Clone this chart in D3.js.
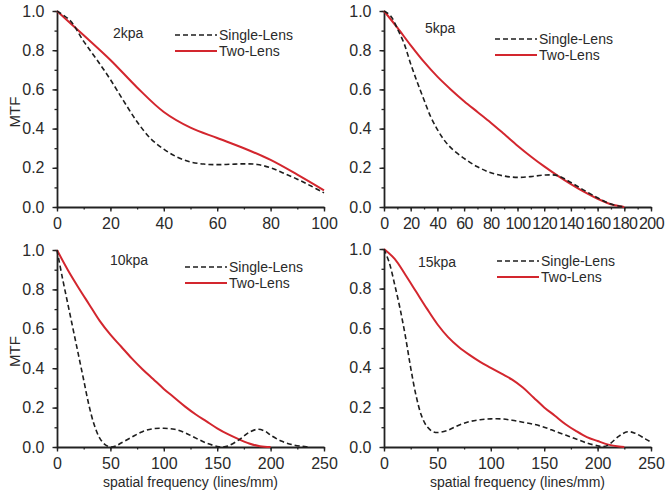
<!DOCTYPE html>
<html><head><meta charset="utf-8">
<script src="https://cdn.jsdelivr.net/npm/d3@7"></script>
<style>
body{margin:0;background:#fff;}
text{font-family:"Liberation Sans",Arial,Helvetica,sans-serif;fill:#2a2a2a;}
</style></head>
<body><svg id="c" width="665" height="493"></svg>
<script>
// ---------- data ----------
const titles = ["2kpa","5kpa","10kpa","15kpa"];
const seriesNames = ["Single-Lens","Two-Lens"];
const xMax = [100,200,250,250];
const xTickStep = [20,20,50,50];
const xMinorStep = [10,10,25,25];
const yTicks = [0,0.2,0.4,0.6,0.8,1.0];

const single2 = [[0,1],[5,0.95],[10,0.845],[15,0.75],[20,0.65],[25,0.54],[30,0.435],[35,0.35],[40,0.295],[45,0.255],[50,0.23],[55,0.219],[60,0.216],[65,0.218],[70,0.22],[75,0.217],[80,0.2],[85,0.172],[90,0.142],[95,0.108],[100,0.072]];
const two2 = [[0,1],[10,0.876],[20,0.75],[30,0.61],[40,0.485],[50,0.405],[60,0.352],[70,0.3],[80,0.24],[90,0.165],[100,0.085]];

const single5 = [[0,1],[5,0.975],[10,0.91],[15,0.835],[20,0.73],[25,0.635],[30,0.546],[35,0.46],[40,0.395],[45,0.342],[50,0.303],[60,0.248],[70,0.205],[80,0.175],[90,0.158],[100,0.151],[110,0.155],[120,0.163],[130,0.16],[140,0.125],[150,0.085],[160,0.047],[170,0.015],[180,0]];
const two5 = [[0,1],[10,0.915],[20,0.825],[30,0.74],[40,0.665],[50,0.6],[60,0.54],[70,0.485],[80,0.43],[90,0.372],[100,0.313],[110,0.258],[120,0.207],[130,0.16],[140,0.117],[150,0.077],[160,0.042],[170,0.014],[180,0]];

const single10 = [[0,1],[5,0.86],[10,0.73],[15,0.6],[20,0.47],[25,0.34],[30,0.21],[35,0.11],[40,0.045],[45,0.012],[50,0],[55,0.005],[60,0.02],[70,0.05],[80,0.078],[90,0.093],[100,0.095],[110,0.09],[120,0.072],[130,0.045],[140,0.02],[150,0.003],[155,0],[160,0.005],[170,0.035],[180,0.075],[188,0.09],[195,0.08],[200,0.06],[210,0.03],[220,0.012],[230,0.003],[235,0]];
const two10 = [[0,1],[10,0.9],[20,0.81],[30,0.725],[40,0.64],[50,0.57],[60,0.51],[70,0.45],[80,0.395],[90,0.345],[100,0.295],[110,0.25],[120,0.205],[130,0.165],[140,0.13],[150,0.095],[160,0.065],[170,0.04],[180,0.018],[190,0.004],[200,0]];

const single15 = [[0,1],[5,0.93],[10,0.82],[15,0.7],[20,0.56],[25,0.4],[30,0.26],[35,0.16],[40,0.105],[45,0.08],[50,0.073],[60,0.085],[70,0.11],[80,0.128],[90,0.138],[100,0.142],[110,0.142],[120,0.135],[130,0.125],[140,0.115],[150,0.1],[160,0.08],[170,0.06],[180,0.04],[190,0.02],[200,0.006],[205,0.002],[210,0.01],[220,0.055],[228,0.077],[235,0.07],[245,0.04],[250,0.025]];
const two15 = [[0,1],[10,0.95],[20,0.87],[30,0.785],[40,0.7],[50,0.62],[60,0.555],[70,0.505],[80,0.465],[90,0.43],[100,0.4],[110,0.37],[120,0.34],[130,0.3],[140,0.25],[150,0.2],[160,0.158],[170,0.115],[180,0.08],[190,0.05],[200,0.03],[210,0.012],[220,0.002],[225,0]];

const singleSeries = [single2,single5,single10,single15];
const twoSeries = [two2,two5,two10,two15];

// ---------- layout ----------
const panels = [
  {l:57,r:324,t:11,b:207, title:[113,38], leg:[175,35], mtf:true, xt:false},
  {l:384,r:651,t:11,b:207, title:[425,33], leg:[495,39], mtf:false, xt:false},
  {l:57,r:324,t:250,b:447, title:[110,265], leg:[185,267], mtf:true, xt:true},
  {l:384,r:651,t:249,b:447, title:[418,267], leg:[497,261], mtf:false, xt:true}
];
const RED = "#d3262e", BLK = "#1e1e1e", AX = "#222";
const svg = d3.select("#c");

panels.forEach((p,i)=>{
  const x = d3.scaleLinear().domain([0,xMax[i]]).range([p.l,p.r]);
  const y = d3.scaleLinear().domain([0,1]).range([p.b,p.t]);
  const g = svg.append("g");

  // minor ticks
  const xMinor = d3.range(0,xMax[i]+0.001,xMinorStep[i]);
  g.append("g").attr("transform",`translate(0,${p.b})`)
    .call(d3.axisBottom(x).tickValues(xMinor).tickSize(2.5).tickFormat(""))
    .call(s=>{s.select(".domain").remove();s.selectAll("line").attr("stroke",AX).attr("stroke-width",1.3);});
  g.append("g").attr("transform",`translate(${p.l},0)`)
    .call(d3.axisLeft(y).tickValues(d3.range(0,1.001,0.1)).tickSize(2.5).tickFormat(""))
    .call(s=>{s.select(".domain").remove();s.selectAll("line").attr("stroke",AX).attr("stroke-width",1.3);});

  // major axes
  const xa = g.append("g").attr("transform",`translate(0,${p.b})`)
    .call(d3.axisBottom(x).tickValues(d3.range(0,xMax[i]+0.001,xTickStep[i])).tickSize(4.5).tickPadding(6).tickSizeOuter(0));
  const ya = g.append("g").attr("transform",`translate(${p.l},0)`)
    .call(d3.axisLeft(y).tickValues(yTicks).tickSize(4.5).tickPadding(8).tickSizeOuter(0).tickFormat(d3.format(".1f")));
  [xa,ya].forEach(a=>{
    a.select(".domain").attr("stroke",AX).attr("stroke-width",1.8);
    a.selectAll(".tick line").attr("stroke",AX).attr("stroke-width",1.4);
    a.selectAll("text").attr("font-size",16).attr("fill","#2a2a2a").attr("font-family",null);
  });
  if(i===1){ xa.selectAll("text").attr("letter-spacing",-0.6); }

  // lines
  const line = d3.line().x(d=>x(d[0])).y(d=>Math.min(y(d[1]),p.b)).curve(d3.curveCatmullRom.alpha(0.5));
  g.append("path").datum(twoSeries[i]).attr("d",line).attr("fill","none")
    .attr("stroke",RED).attr("stroke-width",2);
  g.append("path").datum(singleSeries[i]).attr("d",line).attr("fill","none")
    .attr("stroke",BLK).attr("stroke-width",1.6).attr("stroke-dasharray","5,3");

  // title
  g.append("text").attr("x",p.title[0]).attr("y",p.title[1]).attr("font-size",14).text(titles[i]);

  // legend
  const [lx,ly] = p.leg;
  g.append("line").attr("x1",lx).attr("x2",lx+42).attr("y1",ly).attr("y2",ly)
    .attr("stroke",BLK).attr("stroke-width",1.6).attr("stroke-dasharray","5,3");
  g.append("text").attr("x",lx+44).attr("y",ly+5).attr("font-size",14).text(seriesNames[0]);
  g.append("line").attr("x1",lx).attr("x2",lx+42).attr("y1",ly+16).attr("y2",ly+16)
    .attr("stroke",RED).attr("stroke-width",2);
  g.append("text").attr("x",lx+44).attr("y",ly+21).attr("font-size",14).text(seriesNames[1]);

  if(p.mtf){
    g.append("text").attr("transform",`translate(20,${(p.t+p.b)/2+3}) rotate(-90)`)
      .attr("text-anchor","middle").attr("font-size",15).text("MTF");
  }
  if(p.xt){
    g.append("text").attr("x",(p.l+p.r)/2).attr("y",487).attr("text-anchor","middle")
      .attr("font-size",14).text("spatial frequency (lines/mm)");
  }
});
</script></body></html>
